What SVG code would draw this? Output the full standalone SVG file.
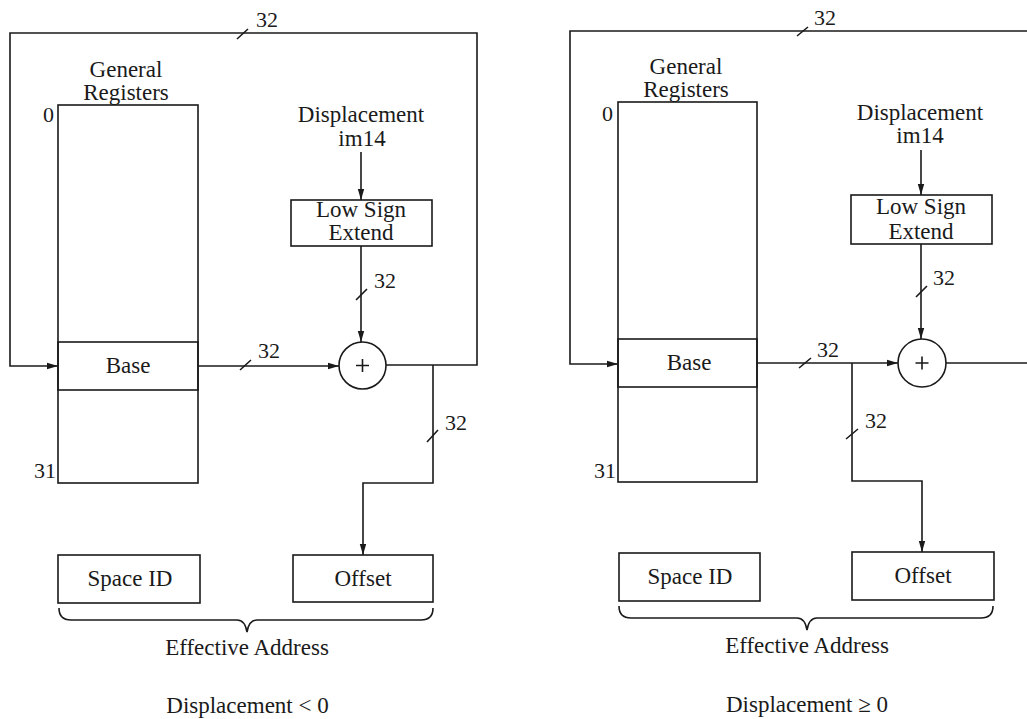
<svg xmlns="http://www.w3.org/2000/svg" width="1027" height="719" viewBox="0 0 1027 719">
  <style>
    .ln { fill: none; stroke: #1a1a1a; stroke-width: 1.6; }
    .box { fill: none; stroke: #1a1a1a; stroke-width: 1.6; }
    .t { font-family: "Liberation Serif", "Times New Roman", serif; font-size: 23px; fill: #1a1a1a; text-anchor: middle; }
    .n { font-family: "Liberation Serif", "Times New Roman", serif; font-size: 22px; fill: #1a1a1a; }
    .e { text-anchor: end; }
  </style>
  <defs>
    <marker id="arr" markerUnits="userSpaceOnUse" markerWidth="12" markerHeight="8" refX="11" refY="4" orient="auto">
      <path d="M0,0.8 L11,4 L0,7.2 Z" fill="#1a1a1a"/>
    </marker>
  </defs>
  <rect width="1027" height="719" fill="#ffffff"/>

  <!-- Left panel: displacement < 0 -->
  <g id="left-regs">
    <rect class="box" x="58" y="105" width="140" height="378"/>
    <text class="t" x="126" y="77">General</text>
    <text class="t" x="126" y="100">Registers</text>
    <text class="n e" x="54" y="122">0</text>
    <text class="n e" x="56" y="478">31</text>
  </g>
  <g id="left-base">
    <rect class="box" x="58" y="342" width="140" height="48"/>
    <text class="t" x="128" y="373">Base</text>
  </g>
  <g id="left-disp">
    <text class="t" x="361" y="122">Displacement</text>
    <text class="t" x="362" y="146">im14</text>
  </g>
  <g id="left-lse">
    <rect class="box" x="291" y="200" width="141" height="46"/>
    <text class="t" x="361" y="217">Low Sign</text>
    <text class="t" x="361" y="240">Extend</text>
  </g>
  <g id="left-add">
    <circle class="box" cx="362.5" cy="365.5" r="23.5"/>
    <path class="ln" d="M356,365.5 H369 M362.5,359 V372"/>
  </g>
  <g id="left-space">
    <rect class="box" x="58" y="555" width="142" height="48"/>
    <text class="t" x="130" y="586">Space ID</text>
  </g>
  <g id="left-offset">
    <rect class="box" x="293" y="555" width="140" height="47"/>
    <text class="t" x="363" y="586">Offset</text>
  </g>
  <g id="left-ea">
    <path class="ln" d="M59,608 Q59,620 71,620 H237 Q245,620 247,632 Q249,620 257,620 H421 Q433,620 433,608"/>
    <text class="t" x="247" y="655">Effective Address</text>
    <text class="t" x="247.5" y="713">Displacement &lt; 0</text>
  </g>

  <!-- Right panel: displacement >= 0 -->
  <g id="right-regs">
    <rect class="box" x="618" y="102" width="139" height="380"/>
    <text class="t" x="686" y="74">General</text>
    <text class="t" x="686" y="97">Registers</text>
    <text class="n e" x="613" y="121">0</text>
    <text class="n e" x="616" y="478">31</text>
  </g>
  <g id="right-base">
    <rect class="box" x="618" y="339" width="139" height="48"/>
    <text class="t" x="689" y="370">Base</text>
  </g>
  <g id="right-disp">
    <text class="t" x="920" y="120">Displacement</text>
    <text class="t" x="920" y="143">im14</text>
  </g>
  <g id="right-lse">
    <rect class="box" x="851" y="195" width="141" height="49"/>
    <text class="t" x="921" y="214">Low Sign</text>
    <text class="t" x="921" y="239">Extend</text>
  </g>
  <g id="right-add">
    <circle class="box" cx="922" cy="363" r="24"/>
    <path class="ln" d="M915.5,363 H928.5 M922,356.5 V369.5"/>
  </g>
  <g id="right-space">
    <rect class="box" x="619" y="553" width="141" height="48"/>
    <text class="t" x="690" y="584">Space ID</text>
  </g>
  <g id="right-offset">
    <rect class="box" x="852" y="552" width="142" height="48"/>
    <text class="t" x="923" y="583">Offset</text>
  </g>
  <g id="right-ea">
    <path class="ln" d="M619,606 Q619,618 631,618 H797 Q805,618 807,630 Q809,618 817,618 H981 Q993,618 993,606"/>
    <text class="t" x="807" y="653">Effective Address</text>
    <text class="t" x="807" y="712">Displacement ≥ 0</text>
  </g>

  <g id="connectors">
    <!-- left panel -->
    <path class="ln" d="M386,365 H477 V33 H10 V366 H58" marker-end="url(#arr)"/>
    <path class="ln" d="M361,152 V200" marker-end="url(#arr)"/>
    <path class="ln" d="M361,246 V342" marker-end="url(#arr)"/>
    <path class="ln" d="M198,366 H339" marker-end="url(#arr)"/>
    <path class="ln" d="M433,365 V483 H363 V555" marker-end="url(#arr)"/>
    <!-- right panel -->
    <path class="ln" d="M946,363 H1027"/>
    <path class="ln" d="M1027,31 H570 V364 H618" marker-end="url(#arr)"/>
    <path class="ln" d="M921,150 V195" marker-end="url(#arr)"/>
    <path class="ln" d="M921,244 V339" marker-end="url(#arr)"/>
    <path class="ln" d="M757,363 H898" marker-end="url(#arr)"/>
    <path class="ln" d="M852,363 V481 H922 V552" marker-end="url(#arr)"/>

    <!-- bus-width slashes and labels -->
    <path class="ln" d="M237,39 L248,29 M240,370 L251,360 M356,300 L367,289 M427,442 L438,430"/>
    <path class="ln" d="M797,36 L808,27 M799,368 L811,358 M916,297 L927,286 M846,439 L858,429"/>
    <text class="n" x="256" y="27">32</text>
    <text class="n" x="258" y="358">32</text>
    <text class="n" x="374" y="288">32</text>
    <text class="n" x="445" y="430">32</text>
    <text class="n" x="814" y="25">32</text>
    <text class="n" x="817" y="357">32</text>
    <text class="n" x="933" y="285">32</text>
    <text class="n" x="865" y="428">32</text>
  </g>
</svg>
